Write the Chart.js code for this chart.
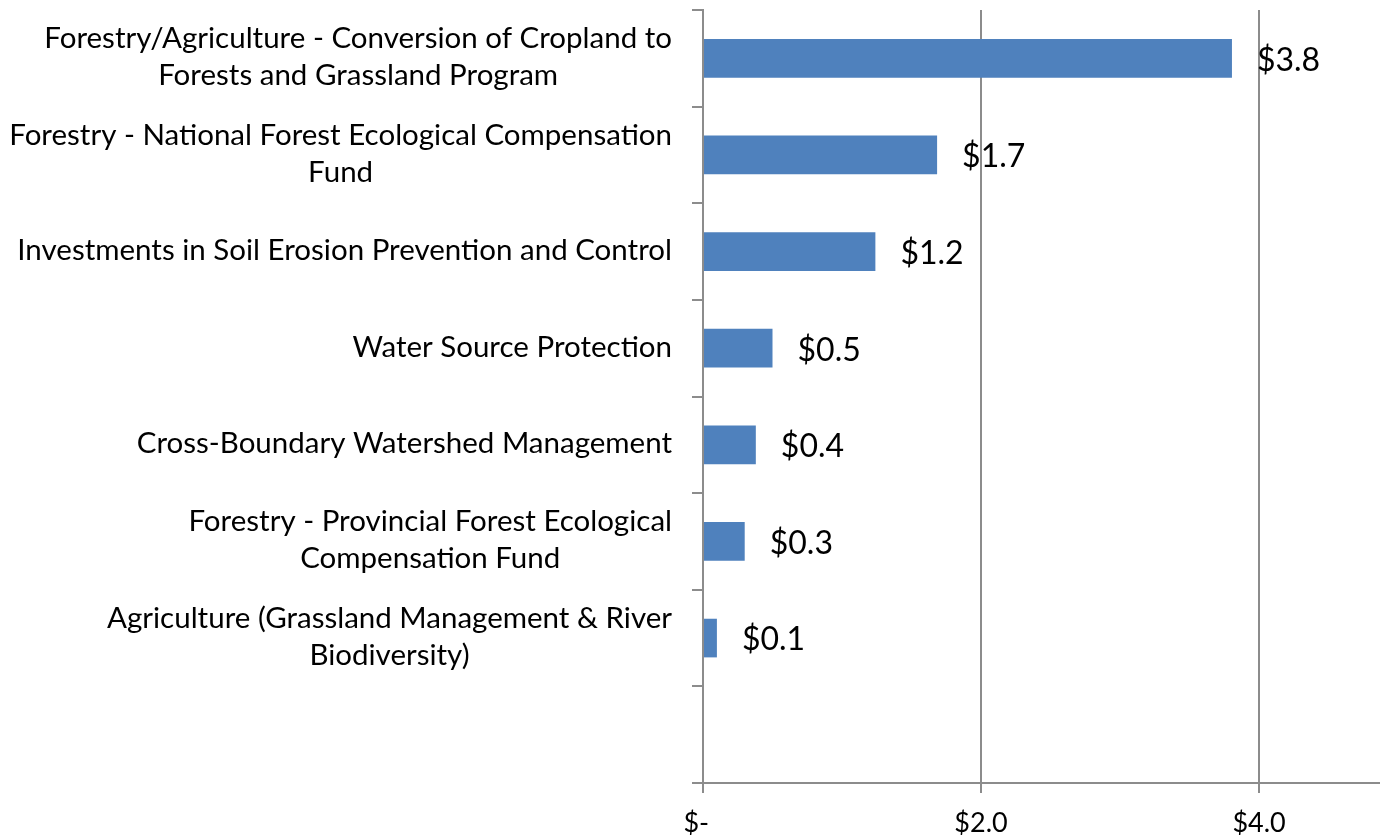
<!DOCTYPE html>
<html>
<head>
<meta charset="utf-8">
<script src="https://cdn.jsdelivr.net/npm/chart.js@4/dist/chart.umd.min.js"></script>
<style>
html,body{margin:0;padding:0;background:#fff;overflow:hidden}
canvas{display:block}
</style>
</head>
<body>
<canvas id="c" width="1380" height="840"></canvas>
<script>
// programmes, top to bottom (last slot is empty in the source chart)
const programs=[
  ['Forestry/Agriculture - Conversion of Cropland to','Forests and Grassland Program'],
  ['Forestry - National Forest Ecological Compensation','Fund'],
  ['Investments in Soil Erosion Prevention and Control'],
  ['Water Source Protection'],
  ['Cross-Boundary Watershed Management'],
  ['Forestry - Provincial Forest Ecological','Compensation Fund'],
  ['Agriculture (Grassland Management & River','Biodiversity)'],
  ['']
];
const amounts=[3.805,1.684,1.24,0.50,0.38,0.30,0.10,null];
const xTicks=[0,2,4];

const FONT='Lato';
// accounting style: zero shows as "$-" with trailing space
const money=v=>v===0?'$-\u2002':'$'+v.toFixed(1);

const yLabels={
  id:'yLabels',
  afterDraw(ch){
    const s=ch.scales.y,ctx=ch.ctx;
    ctx.save();
    ctx.font='29.5px '+FONT;
    ctx.fillStyle='#000';
    ctx.textAlign='center';
    ctx.textBaseline='middle';
    const lh=37,right=672;
    programs.forEach((lines,i)=>{
      const y=s.getPixelForTick(i);
      const w=Math.max(...lines.map(l=>ctx.measureText(l).width));
      const cx=right-w/2;
      lines.forEach((l,k)=>ctx.fillText(l,cx,y-1+(k-(lines.length-1)/2)*lh));
    });
    ctx.restore();
  }
};

const valueLabels={
  id:'valueLabels',
  afterDatasetsDraw(ch){
    const ctx=ch.ctx,meta=ch.getDatasetMeta(0);
    ctx.save();
    ctx.font='32px '+FONT;
    ctx.fillStyle='#000';
    ctx.textAlign='left';
    ctx.textBaseline='middle';
    meta.data.forEach((b,i)=>{
      if(amounts[i]==null)return;
      ctx.fillText(money(amounts[i]),b.x+25,b.y+2);
    });
    ctx.restore();
  }
};

new Chart(document.getElementById('c'),{
  type:'bar',
  data:{labels:programs,datasets:[{data:amounts,backgroundColor:'#4F81BD',borderWidth:0,
    barPercentage:0.4,categoryPercentage:1}]},
  options:{
    indexAxis:'y',
    responsive:false,
    animation:false,
    devicePixelRatio:1,
    layout:{padding:{top:10,left:0,right:0,bottom:0}},
    plugins:{legend:{display:false},tooltip:{enabled:false}},
    scales:{
      y:{
        offset:true,
        grid:{offset:true,drawOnChartArea:false,drawTicks:true,tickLength:11,color:'#8C8C8C',lineWidth:2},
        border:{color:'#8C8C8C',width:2},
        ticks:{display:false},
        afterFit:s=>{s.width=703;}
      },
      x:{
        min:0,max:4.87,
        afterBuildTicks:s=>{s.ticks=xTicks.map(v=>({value:v}));},
        grid:{color:'#8C8C8C',lineWidth:2,tickLength:10,drawTicks:true},
        border:{color:'#8C8C8C',width:2},
        ticks:{font:{family:FONT,size:27},color:'#000',padding:14,maxRotation:0,
          callback:v=>money(v)},
        afterFit:s=>{s.height=57;}
      }
    }
  },
  plugins:[yLabels,valueLabels]
});
</script>
</body>
</html>
